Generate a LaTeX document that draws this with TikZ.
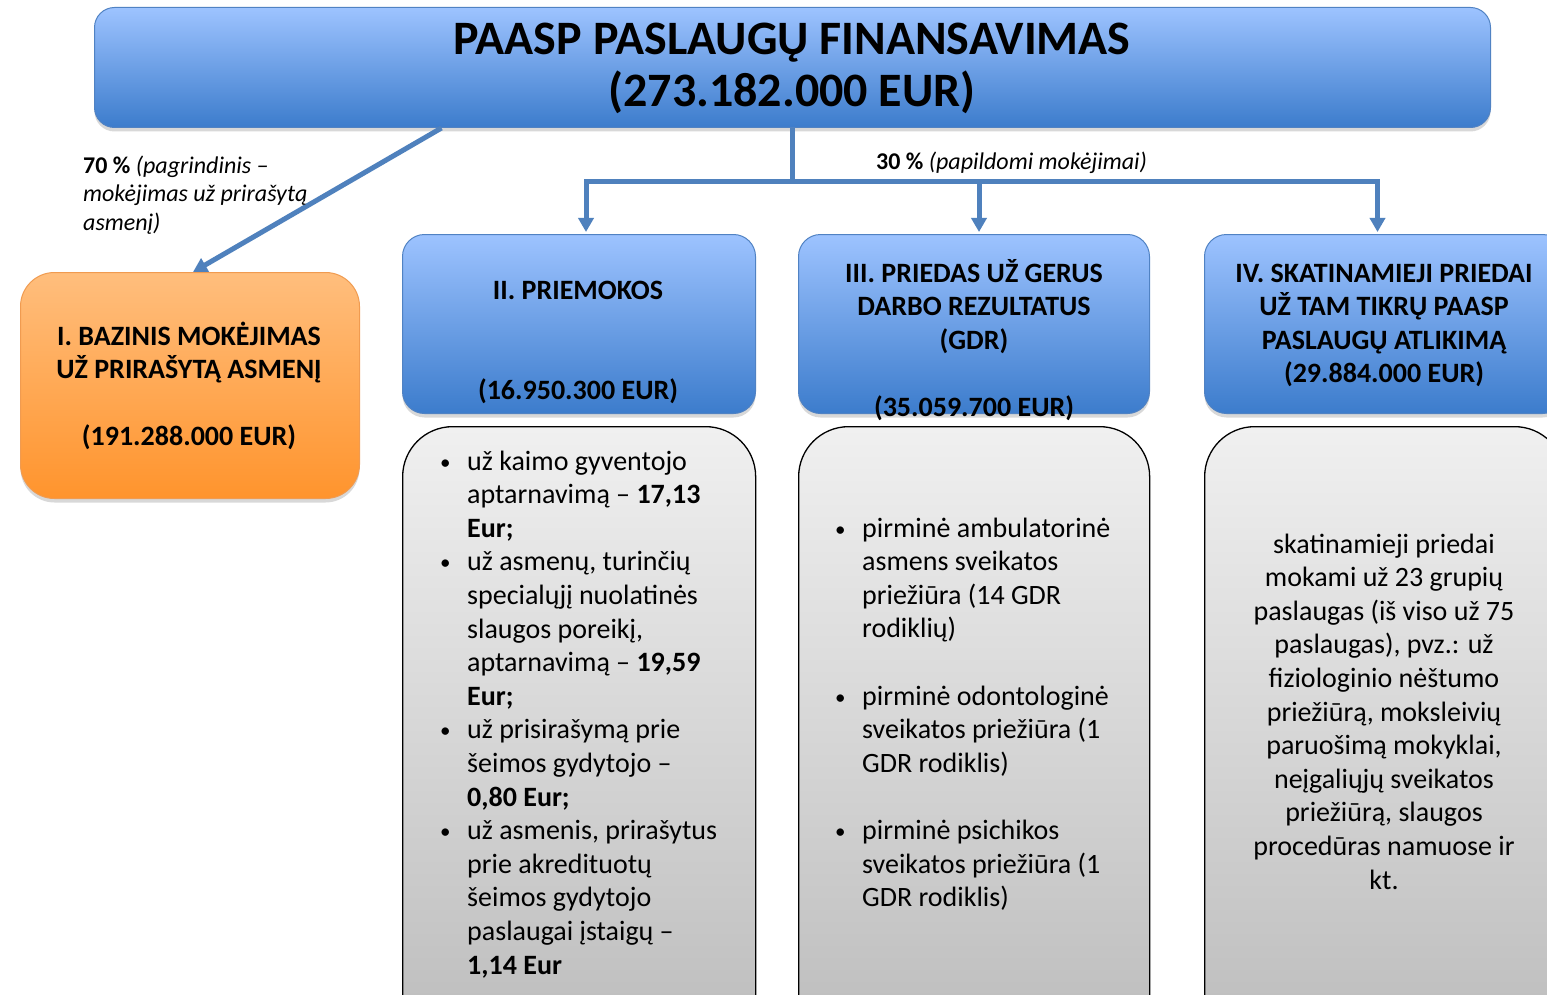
\documentclass[tikz,border=0pt]{standalone}
\usepackage{fontspec}
\setmainfont{Carlito}
\usetikzlibrary{arrows.meta,shadows,calc}
\definecolor{bluetop}{RGB}{157,195,255}
\definecolor{bluebot}{RGB}{60,124,204}
\definecolor{blueedge}{RGB}{80,130,195}
\definecolor{conncol}{RGB}{79,129,189}
\definecolor{orgtop}{RGB}{255,190,125}
\definecolor{orgbot}{RGB}{255,148,45}
\definecolor{orgedge}{RGB}{240,155,80}
\definecolor{graytop}{RGB}{240,240,240}
\definecolor{graybot}{RGB}{188,188,188}
\newcommand{\tabc}[1]{\begin{tabular}[t]{@{}c@{}}#1\end{tabular}}
\newcommand{\tabl}[1]{\begin{tabular}[t]{@{}l@{}l@{}}#1\end{tabular}}
\newcommand{\bl}{\makebox[27pt][l]{\raisebox{1pt}{\fontsize{21}{21}\selectfont •}}}
\tikzset{
  shad/.style={drop shadow={opacity=0.3,shadow xshift=0pt,shadow yshift=-4pt}},
  bbox/.style={rounded corners=22pt, draw=blueedge, line width=1pt, top color=bluetop, bottom color=bluebot, shad, inner sep=0pt, anchor=north west},
  obox/.style={rounded corners=34pt, draw=orgedge, line width=1pt, top color=orgtop, bottom color=orgbot, shad, inner sep=0pt, anchor=north west},
  gbox/.style={rounded corners=50pt, draw=black, line width=1.3pt, top color=graytop, bottom color=graybot, inner sep=0pt, anchor=north west},
  ln/.style={draw=conncol, line width=5pt},
  arr/.style={ln, -{Triangle[width=15pt,length=14pt]}},
  txt/.style={inner sep=0pt, anchor=base, text=black},
  head/.style={txt, font=\fontsize{28}{33.5}\selectfont\bfseries},
  body/.style={txt, font=\fontsize{28}{33.6}\selectfont},
  lab/.style={txt, anchor=base west, font=\fontsize{24}{28.5}\selectfont},
}
\begin{document}
\begin{tikzpicture}[x=1pt,y=-1pt]
\useasboundingbox (0,0) rectangle (1547,995);
\fill[white] (0,0) rectangle (1547,995);

% boxes
\node[bbox, rounded corners=20pt, minimum width=1396pt, minimum height=120pt] (top) at (94,7) {};
\node[obox, minimum width=339pt, minimum height=226pt] (base) at (20,272) {};
\node[bbox, minimum width=353pt, minimum height=179pt] (b2) at (402,234) {};
\node[bbox, minimum width=351pt, minimum height=179pt] (b3) at (798,234) {};
\node[bbox, minimum width=360pt, minimum height=179pt] (b4) at (1204,234) {};
\node[gbox, minimum width=353pt, minimum height=620pt] (g2) at (402,426) {};
\node[gbox, minimum width=351pt, minimum height=620pt] (g3) at (798,426) {};
\node[gbox, minimum width=360pt, minimum height=620pt] (g4) at (1204,426) {};

% connectors
\draw[arr] ($(top.south)+(-351,0)$) -- ($(base.north)+(3,0)$);
\draw[ln] (top.south) -- ++(0,54) coordinate (j);
\draw[arr] (j) -| ($(b2.north)+(7,-2)$);
\draw[arr] (j) -| ($(b3.north)+(5,-2)$);
\draw[arr] (j) -| ($(b4.north)+(-7,-2)$);

% title
\node[txt, font=\fontsize{48}{52}\selectfont\bfseries] (ttl) at (792,54.5) {\tabc{PAASP PASLAUGŲ FINANSAVIMAS\\(273.182.000 EUR)}};

% labels
\node[lab] (l70) at (83,173.5) {\begin{tabular}[t]{@{}l@{}}\textbf{70 \%} \textit{(pagrindinis –}\\\textit{mokėjimas už prirašytą}\\\textit{asmenį)}\end{tabular}};
\node[lab] (l30) at (876,170) {\textbf{30 \%} \textit{(papildomi mokėjimai)}};

% box texts
\node[head] (tb1) at (189,345) {\tabc{I. BAZINIS MOKĖJIMAS\\UŽ PRIRAŠYTĄ ASMENĮ\\ \\(191.288.000 EUR)}};
\node[head] (tb2) at (578,299) {\tabc{II. PRIEMOKOS\\ \\ \\(16.950.300 EUR)}};
\node[head] (tb3) at (974,282) {\tabc{III. PRIEDAS UŽ GERUS\\DARBO REZULTATUS\\(GDR)\\ \\(35.059.700 EUR)}};
\node[head] (tb4) at (1384,282) {\tabc{IV. SKATINAMIEJI PRIEDAI\\UŽ TAM TIKRŲ PAASP\\PASLAUGŲ ATLIKIMĄ\\(29.884.000 EUR)}};

\node[body, anchor=base west] (tg2) at (440,470) {\tabl{%
\bl & už kaimo gyventojo\\
 & aptarnavimą – \textbf{17,13}\\
 & \textbf{Eur;}\\
\bl & už asmenų, turinčių\\
 & specialųjį nuolatinės\\
 & slaugos poreikį,\\
 & aptarnavimą – \textbf{19,59}\\
 & \textbf{Eur;}\\
\bl & už prisirašymą prie\\
 & šeimos gydytojo –\\
 & \textbf{0,80 Eur;}\\
\bl & už asmenis, prirašytus\\
 & prie akredituotų\\
 & šeimos gydytojo\\
 & paslaugai įstaigų –\\
 & \textbf{1,14 Eur}}};

\node[body, anchor=base west] (tg3) at (835,537) {\tabl{%
\bl & pirminė ambulatorinė\\
 & asmens sveikatos\\
 & priežiūra (14 GDR\\
 & rodiklių)\\
 & \\
\bl & pirminė odontologinė\\
 & sveikatos priežiūra (1\\
 & GDR rodiklis)\\
 & \\
\bl & pirminė psichikos\\
 & sveikatos priežiūra (1\\
 & GDR rodiklis)}};

\node[body] (tg4) at (1384,553) {\tabc{skatinamieji priedai\\mokami už 23 grupių\\paslaugas (iš viso už 75\\paslaugas), pvz.: už\\fiziologinio nėštumo\\priežiūrą, moksleivių\\paruošimą mokyklai,\\neįgaliųjų sveikatos\\priežiūrą, slaugos\\procedūras namuose ir\\kt.}};
\end{tikzpicture}
\end{document}
